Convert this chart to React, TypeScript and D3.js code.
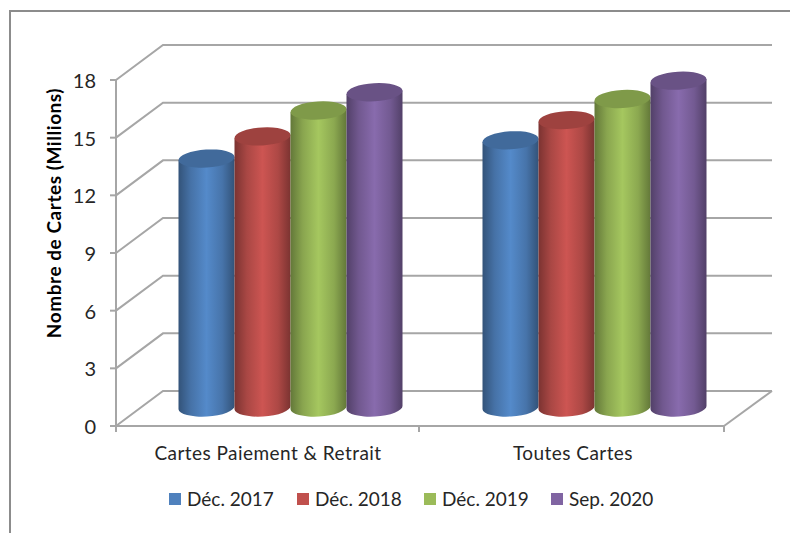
import React, { useEffect, useRef } from 'react';
import * as d3 from 'd3';

const categories = ['Cartes Paiement & Retrait', 'Toutes Cartes'];
const seriesNames = ['Déc. 2017', 'Déc. 2018', 'Déc. 2019', 'Sep. 2020'];
const paiementValues = [12.95, 14.1, 15.45, 16.4];
const toutesValues = [13.9, 14.95, 16.05, 17.0];
const yTicks = [0, 3, 6, 9, 12, 15, 18];
const colors = ['#4F81BD', '#C0504D', '#9BBB59', '#8064A2'];

const App: React.FC = () => {
    const chartRef = useRef<SVGSVGElement>(null);

    useEffect(() => {
        if (!chartRef.current) return;
        d3.select(chartRef.current).selectAll('*').remove();

        const width = 790;
        const height = 533;
        const font = 'Lato, sans-serif';
        const axisColor = '#a6a6a6';
        const textColor = '#262626';
        const depthX = 47;
        const depthY = 35;

        const svg = d3.select(chartRef.current)
            .attr('width', width)
            .attr('height', height)
            .attr('viewBox', `0 0 ${width} ${height}`)
            .style('position', 'absolute')
            .style('left', '0px')
            .style('top', '0px');

        const yScale = d3.scaleLinear().domain([0, 18]).range([426, 80]);
        const xScale = d3.scaleBand<string>().domain(categories).range([116, 724]);
        const seriesScale = d3.scaleBand<string>().domain(seriesNames).range([62.5, 286.5]);

        // Outer frame, only left and top are in the picture
        svg.append('path')
            .attr('d', 'M10,533V11H790')
            .attr('fill', 'none')
            .attr('stroke', '#8c8c8c')
            .attr('stroke-width', 2);

        const defs = svg.append('defs');
        colors.forEach((c, i) => {
            const base = d3.color(c) as d3.RGBColor;
            const grad = defs.append('linearGradient').attr('id', `cyl${i}`);
            grad.append('stop').attr('offset', '0%').attr('stop-color', base.darker(1.25).formatHex());
            grad.append('stop').attr('offset', '22%').attr('stop-color', base.darker(0.35).formatHex());
            grad.append('stop').attr('offset', '50%').attr('stop-color', base.brighter(0.18).formatHex());
            grad.append('stop').attr('offset', '78%').attr('stop-color', base.darker(0.3).formatHex());
            grad.append('stop').attr('offset', '100%').attr('stop-color', base.darker(1.25).formatHex());
        });

        // Back wall gridlines and side wall
        const grid = svg.append('g').attr('fill', 'none').attr('stroke', axisColor).attr('stroke-width', 2);
        yTicks.forEach(t => {
            const y = yScale(t);
            grid.append('path')
                .attr('d', `M116,${y}L${116 + depthX},${y - depthY}H772`);
        });
        // Floor
        grid.append('path').attr('d', `M724,426L772,${yScale(0) - depthY}`);
        grid.append('path').attr('d', 'M116,80V426H724');

        // Ticks
        yTicks.forEach(t => {
            grid.append('line')
                .attr('x1', 110).attr('x2', 116)
                .attr('y1', yScale(t)).attr('y2', yScale(t));
        });
        [116, 419, 724].forEach(x => {
            grid.append('line').attr('x1', x).attr('x2', x).attr('y1', 426).attr('y2', 432);
        });

        // Y tick labels
        svg.append('g').selectAll('text').data(yTicks).enter().append('text')
            .attr('x', 96)
            .attr('y', d => yScale(d) + 8)
            .attr('text-anchor', 'end')
            .attr('font-family', font)
            .attr('font-size', 20)
            .attr('fill', textColor)
            .text(d => d);

        // Y axis title
        svg.append('text')
            .attr('transform', 'translate(61,213) rotate(-90)')
            .attr('text-anchor', 'middle')
            .attr('font-family', font)
            .attr('font-size', 19)
            .attr('font-weight', 'bold')
            .attr('letter-spacing', 0.55)
            .attr('fill', '#000')
            .text('Nombre de Cartes (Millions)');

        // Cylinders
        const floorY = yScale(0) - 18.5;
        const ry = 9;
        const tilt = -3.5;
        [paiementValues, toutesValues].forEach((values, g) => {
            const gx = xScale(categories[g]) as number;
            values.forEach((v, i) => {
                const bw = seriesScale.bandwidth();
                const x0 = gx + (seriesScale(seriesNames[i]) as number);
                const cx = x0 + bw / 2;
                const rx = bw / 2;
                const topY = floorY - (yScale(0) - yScale(v));
                const dy = rx * Math.sin(tilt * Math.PI / 180);
                const body = `M${x0},${topY - dy}L${x0 + bw},${topY + dy}`
                    + `L${x0 + bw},${floorY + dy}`
                    + `A${rx},${ry} ${tilt} 0 1 ${x0},${floorY - dy}Z`;
                svg.append('path').attr('d', body).attr('fill', `url(#cyl${i})`);
                svg.append('ellipse')
                    .attr('cx', cx).attr('cy', topY)
                    .attr('rx', rx).attr('ry', ry)
                    .attr('transform', `rotate(${tilt} ${cx} ${topY})`)
                    .attr('fill', (d3.color(colors[i]) as d3.RGBColor).darker(0.55).formatHex());
            });
        });

        // Category labels
        svg.append('g').selectAll('text').data(categories).enter().append('text')
            .attr('x', d => (xScale(d) as number) + xScale.bandwidth() / 2 + (d === categories[0] ? 0 : 1))
            .attr('y', 460)
            .attr('text-anchor', 'middle')
            .attr('font-family', font)
            .attr('font-size', 19)
            .attr('letter-spacing', 0.45)
            .attr('fill', textColor)
            .text(d => d);

        // Legend
        const legendX = [169, 297, 424, 551];
        seriesNames.forEach((name, i) => {
            svg.append('rect')
                .attr('x', legendX[i]).attr('y', 493)
                .attr('width', 12).attr('height', 12)
                .attr('fill', colors[i]);
            svg.append('text')
                .attr('x', legendX[i] + 18).attr('y', 506)
                .attr('font-family', font)
                .attr('font-size', 19)
                .attr('fill', textColor)
                .text(name);
        });
    }, []);

    return <svg ref={chartRef}></svg>;
};

export default App;
